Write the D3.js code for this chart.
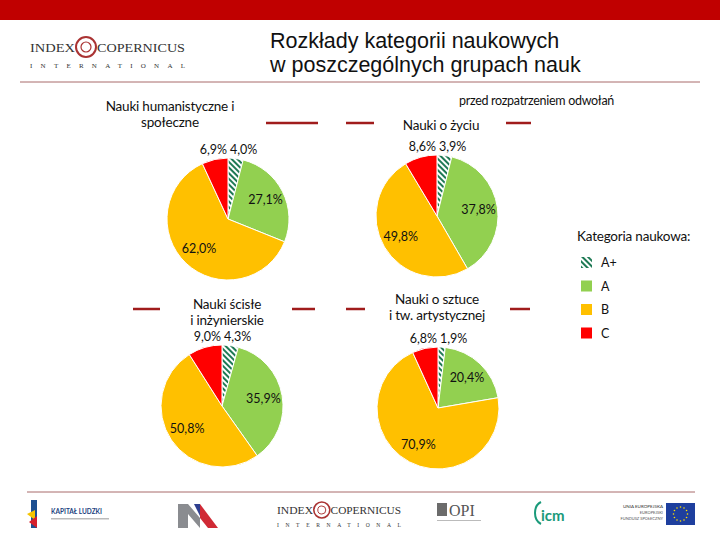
<!DOCTYPE html>
<html>
<head>
<meta charset="utf-8">
<script src="https://cdn.jsdelivr.net/npm/d3@7"></script>
<style>
  body { margin: 0; background: #fff; }
  svg text { font-family: Lato, "Noto Sans", sans-serif; fill: #111; }
</style>
</head>
<body>
<div id="chart"></div>
<script>
// data
var categories = ["A+", "A", "B", "C"];
var groupNames = ["Nauki humanistyczne i|społeczne", "Nauki o życiu", "Nauki ścisłe|i inżynierskie", "Nauki o sztuce|i tw. artystycznej"];
var humValues = [4.0, 27.1, 62.0, 6.9];
var lifeValues = [3.9, 37.8, 49.8, 8.6];
var sciValues = [4.3, 35.9, 50.8, 9.0];
var artValues = [1.9, 20.4, 70.9, 6.8];
var colors = ["#1f7a55", "#92d050", "#ffc000", "#ff0000"];

var fullWidth = 720, fullHeight = 540;

var svg = d3.select("#chart")
  .append("svg")
  .attr("width", fullWidth)
  .attr("height", fullHeight);

// wzor kreskowany dla A+
var defs = svg.append("defs");
var pat = defs.append("pattern")
  .attr("id", "hatch")
  .attr("patternUnits", "userSpaceOnUse")
  .attr("width", 4).attr("height", 4)
  .attr("patternTransform", "rotate(-45)");
pat.append("rect").attr("width", 4).attr("height", 4).attr("fill", "#ffffff");
pat.append("rect").attr("width", 2).attr("height", 4).attr("fill", colors[0]);

function fillFor(i) { return i == 0 ? "url(#hatch)" : colors[i]; }

// header
svg.append("rect").attr("x", 0).attr("y", 0).attr("width", fullWidth).attr("height", 20).attr("fill", "#c00000");
svg.append("line").attr("x1", 20).attr("x2", 700).attr("y1", 82).attr("y2", 82)
  .attr("stroke", "#a86a6a").attr("stroke-width", 1);

svg.append("text").attr("x", 270).attr("y", 48)
  .style("font-family", "'Liberation Sans', Arial, sans-serif").style("font-size", "21.5px")
  .text("Rozkłady kategorii naukowych");
svg.append("text").attr("x", 270).attr("y", 72)
  .style("font-family", "'Liberation Sans', Arial, sans-serif").style("font-size", "21.5px")
  .text("w poszczególnych grupach nauk");

// logo index copernicus
function icLogo(g, s) {
  g.append("text").attr("x", 0).attr("y", 0)
    .style("font-family", "'Liberation Serif', serif").style("font-size", (13 * s) + "px")
    .attr("textLength", 45 * s).attr("lengthAdjust", "spacingAndGlyphs")
    .style("fill", "#333").text("INDEX");
  g.append("circle").attr("cx", 56 * s).attr("cy", -5 * s).attr("r", 10 * s)
    .attr("fill", "none").attr("stroke", "#a33").attr("stroke-width", 2 * s);
  g.append("circle").attr("cx", 56 * s).attr("cy", -5 * s).attr("r", 5 * s)
    .attr("fill", "none").attr("stroke", "#a33").attr("stroke-width", 1.2 * s);
  g.append("text").attr("x", 67 * s).attr("y", 0)
    .style("font-family", "'Liberation Serif', serif").style("font-size", (13 * s) + "px")
    .attr("textLength", 88 * s).attr("lengthAdjust", "spacingAndGlyphs")
    .style("fill", "#333").text("COPERNICUS");
  g.append("text").attr("x", 0).attr("y", 16 * s)
    .style("font-family", "'Liberation Serif', serif").style("font-size", (7 * s) + "px")
    .attr("textLength", 155 * s).attr("lengthAdjust", "spacing")
    .style("fill", "#333").text("INTERNATIONAL");
}
icLogo(svg.append("g").attr("transform", "translate(30,52)"), 1);

svg.append("text").attr("x", 614).attr("y", 105).attr("text-anchor", "end")
  .style("font-size", "12.5px").style("letter-spacing", "-0.3px")
  .text("przed rozpatrzeniem odwołań");

// kola
var pieLayout = d3.pie().sort(null).value(function(d) { return d; });
var radius = 61;
var arc = d3.arc().innerRadius(0).outerRadius(radius);
var labelArc = d3.arc().innerRadius(42).outerRadius(42);

var pies = [
  { values: humValues, name: groupNames[0], cx: 228, cy: 219, tx: 170, ty: 111, lines: [[266, 318, 123]] },
  { values: lifeValues, name: groupNames[1], cx: 437, cy: 216, tx: 441, ty: 130, lines: [[346, 374, 123], [506, 531, 123]] },
  { values: sciValues, name: groupNames[2], cx: 222, cy: 406, tx: 227, ty: 309, lines: [[133, 160, 309], [292, 315, 309]] },
  { values: artValues, name: groupNames[3], cx: 438, cy: 408, tx: 437, ty: 304, lines: [[346, 365, 309], [510, 530, 309]] }
];

function fmt(v) { return v.toFixed(1).replace(".", ",") + "%"; }

pies.forEach(function(p) {
  p.lines.forEach(function(l) {
    svg.append("line").attr("x1", l[0]).attr("x2", l[1]).attr("y1", l[2]).attr("y2", l[2])
      .attr("stroke", "#a01c1c").attr("stroke-width", 2.5);
  });
  var nameLines = p.name.split("|");
  nameLines.forEach(function(t, i) {
    svg.append("text").attr("x", p.tx).attr("y", p.ty + i * 16).attr("text-anchor", "middle")
      .style("font-size", "13.5px").style("letter-spacing", "-0.2px").text(t);
  });

  var g = svg.append("g").attr("transform", "translate(" + p.cx + "," + p.cy + ")");
  var arcs = pieLayout(p.values);
  g.selectAll("path").data(arcs).enter().append("path")
    .attr("d", arc)
    .attr("fill", function(d, i) { return fillFor(i); })
    .attr("stroke", "#fff").attr("stroke-width", 1);

  g.selectAll("text.lab").data(arcs).enter().append("text")
    .attr("class", "lab")
    .style("font-size", "12.5px")
    .attr("text-anchor", function(d, i) { return i == 0 ? "start" : (i == 3 ? "end" : "middle"); })
    .attr("x", function(d, i) {
      if (i == 0) return 2;
      if (i == 3) return -1;
      return labelArc.centroid(d)[0];
    })
    .attr("y", function(d, i) {
      if (i == 0 || i == 3) return -radius - 4;
      return labelArc.centroid(d)[1] + 4;
    })
    .text(function(d) { return fmt(d.data); });
});

// legenda
svg.append("text").attr("x", 577).attr("y", 241).style("font-size", "13.5px")
  .style("letter-spacing", "-0.2px").text("Kategoria naukowa:");
var leg = svg.selectAll("g.leg").data(categories).enter().append("g")
  .attr("class", "leg")
  .attr("transform", function(d, i) { return "translate(581," + (257 + i * 23.5) + ")"; });
leg.append("rect").attr("width", 11).attr("height", 11)
  .attr("fill", function(d, i) { return fillFor(i); });
leg.append("text").attr("x", 20).attr("y", 10).style("font-size", "12.5px").text(function(d) { return d; });

// stopka
svg.append("line").attr("x1", 27).attr("x2", 695).attr("y1", 492).attr("y2", 492)
  .attr("stroke", "#a86a6a").attr("stroke-width", 1);

// kapital ludzki
var kl = svg.append("g").attr("transform", "translate(27,500)");
kl.append("path").attr("d", "M4,0 L10,0 L10,28 L4,28 Z").attr("fill", "#1d4f91");
kl.append("path").attr("d", "M0,14 L8,10 L8,20 Z").attr("fill", "#f5c400");
kl.append("path").attr("d", "M2,22 L10,16 L10,28 Z").attr("fill", "#d6202c");
kl.append("text").attr("x", 24).attr("y", 14).style("font-size", "6.5px").style("font-weight", "bold")
  .style("fill", "#1d3f80").text("KAPITAŁ LUDZKI");
kl.append("rect").attr("x", 24).attr("y", 18).attr("width", 58).attr("height", 1.5).attr("fill", "#bbb");

// NA logo
var na = svg.append("g").attr("transform", "translate(178,504)");
na.append("path").attr("d", "M0,0 L10,0 L22,14 L22,24 L10,10 L10,24 L0,24 Z").attr("fill", "#8a8c90");
na.append("path").attr("d", "M22,0 L40,24 L30,24 L22,14 Z").attr("fill", "#d02a35");
na.append("path").attr("d", "M16,0 L22,0 L22,12 Z").attr("fill", "#2e3f8f");

icLogo(svg.append("g").attr("transform", "translate(277,514)"), 0.8);

// OPI
var opi = svg.append("g").attr("transform", "translate(437,501)");
opi.append("rect").attr("x", 0).attr("y", 2).attr("width", 10).attr("height", 13).attr("fill", "#6b6b6b");
opi.append("text").attr("x", 12).attr("y", 15).style("font-family", "'Liberation Serif', serif")
  .style("font-size", "16px").style("fill", "#555").text("OPI");
opi.append("rect").attr("x", 0).attr("y", 19).attr("width", 44).attr("height", 1).attr("fill", "#bbb");

// icm
var icm = svg.append("g").attr("transform", "translate(533,500)");
icm.append("path").attr("d", "M8,2 C0,6 0,20 8,24").attr("fill", "none").attr("stroke", "#1a9a7a").attr("stroke-width", 2);
icm.append("text").attr("x", 8).attr("y", 21).style("font-size", "15px").style("font-weight", "bold")
  .style("fill", "#1a9a7a").text("icm");

// UE
var eu = svg.append("g").attr("transform", "translate(614,503)");
eu.append("text").attr("x", 49).attr("y", 5).attr("text-anchor", "end").style("font-size", "4.5px").style("fill", "#333").text("UNIA EUROPEJSKA");
eu.append("text").attr("x", 49).attr("y", 11).attr("text-anchor", "end").style("font-size", "4px").style("fill", "#555").text("EUROPEJSKI");
eu.append("text").attr("x", 49).attr("y", 17).attr("text-anchor", "end").style("font-size", "4px").style("fill", "#555").text("FUNDUSZ SPOŁECZNY");
eu.append("rect").attr("x", 52).attr("y", 0).attr("width", 29).attr("height", 22).attr("fill", "#1e3f9e");
d3.range(12).forEach(function(i) {
  var a = i / 12 * 2 * Math.PI;
  eu.append("circle").attr("cx", 66.5 + Math.sin(a) * 7).attr("cy", 11 - Math.cos(a) * 7)
    .attr("r", 0.8).attr("fill", "#ffdd00");
});
</script>
</body>
</html>
